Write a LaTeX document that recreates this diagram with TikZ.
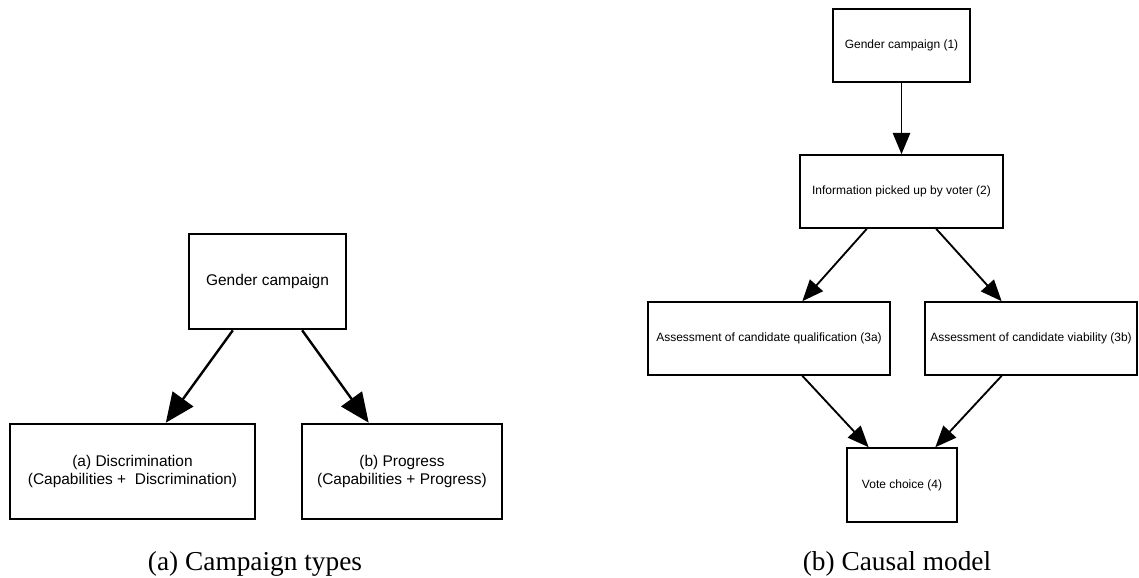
\documentclass[tikz,border=0pt]{standalone}
\usepackage{fontspec}
\setmainfont{Liberation Serif}
\setsansfont{Liberation Sans}
\usepackage{tikz}
\usetikzlibrary{calc}
\usetikzlibrary{positioning, arrows.meta, shapes}

\begin{document}
\begin{tikzpicture}[x=0.75pt, y=-0.75pt,
    bigbox/.style={draw, line width=2pt, align=center, font=\sffamily\fontsize{11.6}{14}\selectfont, minimum height=71.25pt},
    smallbox/.style={draw, line width=1.2pt, align=center, font=\sffamily\fontsize{9}{11}\selectfont, minimum height=54.75pt},
    bigarr/.style={line width=1.8pt, -{Triangle[length=22pt, width=19pt]}},
    smallarr/.style={line width=1.4pt, -{Triangle[length=16pt, width=13pt]}},
    caption/.style={font=\fontsize{20.5}{24}\selectfont, anchor=base}]
    \useasboundingbox (0,0) rectangle (1139,578);

    % (a) Campaign types
    \node[bigbox, minimum width=117.75pt] (gc) at (267.5,281.5) {Gender campaign};
    \node[bigbox, minimum width=183.75pt] (disc) at (132.5,471.5) {(a) Discrimination\\(Capabilities +\ \ Discrimination)};
    \node[bigbox, minimum width=150pt] (prog) at (402,471.5) {(b) Progress\\(Capabilities + Progress)};
    \draw[bigarr] ([xshift=-26pt]gc.south) -- ([xshift=25pt]disc.north);
    \draw[bigarr] ([xshift=26pt]gc.south) -- ([xshift=-25pt]prog.north);
    \node[caption] (capa) at (255,570) {(a) Campaign types};

    % (b) Causal model
    \node[smallbox, minimum width=102.75pt] (camp) at (901.5,45.5) {Gender campaign (1)};
    \node[smallbox, minimum width=152.25pt] (info) at (901.5,191.5) {Information picked up by voter (2)};
    \node[smallbox, minimum width=181.5pt] (qual) at (769,338.5) {Assessment of candidate qualification (3a)};
    \node[smallbox, minimum width=159pt] (viab) at (1031,338.5) {Assessment of candidate viability (3b)};
    \node[smallbox, minimum width=82.5pt, minimum height=55.5pt] (vote) at (902,485) {Vote choice (4)};
    \draw[smallarr] (camp) -- (info);
    \draw[smallarr] ([xshift=-26pt]info.south) -- ([xshift=25pt]qual.north);
    \draw[smallarr] ([xshift=26pt]info.south) -- ([xshift=-22pt]viab.north);
    \draw[smallarr] ([xshift=25pt]qual.south) -- ([xshift=-25pt]vote.north);
    \draw[smallarr] ([xshift=-22pt]viab.south) -- ([xshift=25pt]vote.north);
    \node[caption] (capb) at (897,570) {(b) Causal model};
\end{tikzpicture}
\end{document}
